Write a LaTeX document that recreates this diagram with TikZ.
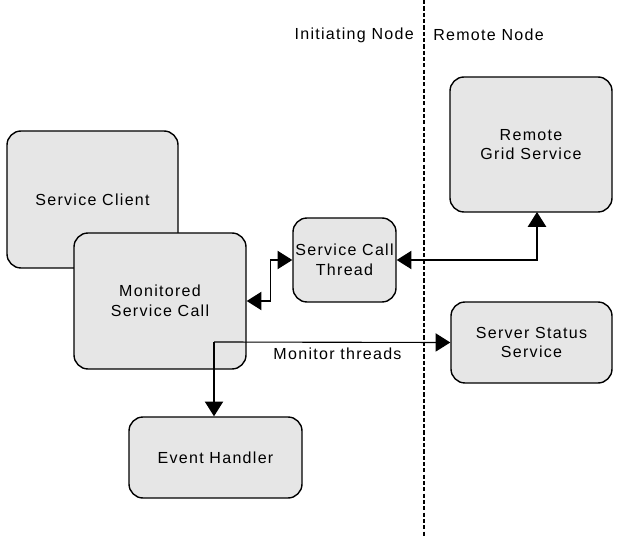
\documentclass[tikz,border=0pt]{standalone}
\usepackage{fontspec}
\setmainfont{Liberation Sans}[LetterSpace=8]
\usetikzlibrary{arrows.meta}
\definecolor{boxgrey}{RGB}{230,230,230}

\tikzset{
    box/.style 2 args={draw, line width=1pt, fill=boxgrey, rounded corners=10pt,
        align=center, inner sep=0pt, font=\fontsize{11.4}{14}\selectfont,
        minimum width=#1*0.025cm, minimum height=#2*0.025cm},
    link/.style={line width=0.8pt, >={Triangle[length=10.5pt,width=13pt]}},
    lbl/.style={font=\fontsize{11.4}{14}\selectfont, inner sep=0pt}
}

\begin{document}
\begin{tikzpicture}[x=0.025cm, y=-0.025cm]
    \useasboundingbox (0,0) rectangle (618,537);

    % node boundary
    \draw[line width=0.8pt, dash pattern=on 3pt off 1.5pt] (424,0) -- (424,537);
    \node[lbl, anchor=east] (initlbl) at (414,35) {Initiating Node};
    \node[lbl, anchor=west] (remotelbl) at (433,35) {Remote Node};

    \node[box={171}{137}] (client) at (92.5,199.5) {Service Client};
    \node[box={172}{136}] (monitored) at (160,301) {Monitored\\Service Call};
    \node[box={103}{84}] (thread) at (344.5,260) {Service Call\\Thread};
    \node[box={162}{135}] (remote) at (531,144.5) {Remote\\Grid Service};
    \node[box={161}{81}] (status) at (531.5,342.5) {Server Status\\Service};
    \node[box={173}{81}] (handler) at (215.5,457.5) {Event Handler};

    \coordinate (gridin) at (537,212);
    \coordinate (split) at (214,342);

    \draw[link, <->] (monitored.east) -- ++(24,0) |- (thread.west);
    \draw[link, <->] (thread.east) -| (gridin);
    \draw[link, ->] (split) -- (status.west);
    \draw[link, ->] (split) -- (split |- handler.north);
    \node[lbl] (monlbl) at (337.5,354) {Monitor threads};

\end{tikzpicture}
\end{document}
